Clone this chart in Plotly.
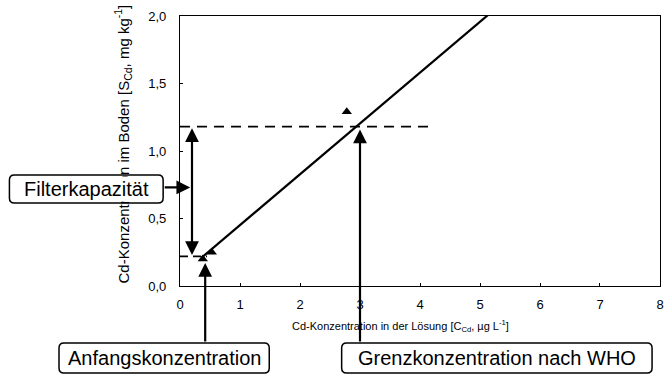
import plotly.graph_objects as go

# Measured Cd sorption points (solution concentration vs. soil concentration)
conc_solution = [0.38, 0.53, 2.78]
conc_soil = [0.20, 0.25, 1.29]

# Fitted sorption line (end points)
fit_x = [0.36, 5.22]
fit_y = [0.21, 2.04]

# Reference levels
who_limit_x = 3.0
who_soil_level = 1.18
initial_x = 0.42
initial_soil_level = 0.22

x_ticks = [0, 1, 2, 3, 4, 5, 6, 7, 8]
y_ticks = [0.0, 0.5, 1.0, 1.5, 2.0]

W, H = 666, 374
ML, MR, MT, MB = 180, 2, 16, 88
PW, PH = W - ML - MR, H - MT - MB

FONT = "Liberation Sans, Arial, sans-serif"


def px(x):
    return (x - ML) / PW


def py(y):
    return (H - MB - y) / PH


def rounded_box(x0, y0, x1, y1, r=5):
    rx, ry = r / PW, r / PH
    a0, a1 = px(x0), px(x1)
    b0, b1 = py(y1), py(y0)  # bottom, top in paper
    return (f"M {a0+rx},{b0} L {a1-rx},{b0} Q {a1},{b0} {a1},{b0+ry} "
            f"L {a1},{b1-ry} Q {a1},{b1} {a1-rx},{b1} L {a0+rx},{b1} "
            f"Q {a0},{b1} {a0},{b1-ry} L {a0},{b0+ry} Q {a0},{b0} {a0+rx},{b0} Z")


fig = go.Figure()

fig.add_trace(go.Scatter(x=fit_x, y=fit_y, mode="lines",
                         line=dict(color="black", width=2.2), showlegend=False))
fig.add_trace(go.Scatter(x=[0, 4.25], y=[who_soil_level, who_soil_level], mode="lines",
                         line=dict(color="black", width=1.8, dash="10px,7px"), showlegend=False))
fig.add_trace(go.Scatter(x=[0, 0.45], y=[initial_soil_level, initial_soil_level], mode="lines",
                         line=dict(color="black", width=1.8, dash="8px,5px"), showlegend=False))
fig.add_trace(go.Scatter(x=conc_solution, y=conc_soil, mode="markers",
                         marker=dict(symbol="triangle-up", size=9, color="black"),
                         showlegend=False))

boxes = [
    ("Filterkapazität", 8, 175, 163, 203),
    ("Anfangskonzentration", 58, 343, 270, 373),
    ("Grenzkonzentration nach WHO", 343, 343, 656, 373),
]

annotations = []

# Axis titles (the y title sits partly behind the Filterkapazität box)
annotations.append(dict(xref="paper", yref="paper", x=px(402), y=py(326),
                        text="Cd-Konzentration in der Lösung [C<sub>Cd</sub>, µg L<sup>-1</sup>]",
                        showarrow=False, font=dict(family=FONT, size=11, color="black"),
                        xanchor="center", yanchor="middle"))
annotations.append(dict(xref="paper", yref="paper", x=px(122), y=py(144),
                        text="Cd-Konzentration im Boden [S<sub>Cd</sub>, mg kg<sup>-1</sup>]",
                        showarrow=False, textangle=-90,
                        font=dict(family=FONT, size=15, color="black"),
                        xanchor="center", yanchor="middle"))

shapes = []
for label, x0, y0, x1, y1 in boxes:
    shapes.append(dict(type="path", xref="paper", yref="paper",
                       path=rounded_box(x0, y0, x1, y1),
                       line=dict(color="black", width=1.5), fillcolor="white",
                       layer="above"))
    annotations.append(dict(xref="paper", yref="paper", x=px((x0 + x1) / 2),
                            y=py((y0 + y1) / 2), text=label, showarrow=False,
                            font=dict(family=FONT, size=20, color="black"),
                            bgcolor="white",
                            xanchor="center", yanchor="middle"))

arrow_style = dict(showarrow=True, arrowhead=2, arrowsize=1.25, arrowwidth=2.2,
                   arrowcolor="black", text="", xref="x", yref="y")
# Filter capacity: double-headed arrow between the two soil levels
annotations.append(dict(x=0.2, y=initial_soil_level + 0.01, ax=0.2, ay=who_soil_level,
                        axref="x", ayref="y", arrowside="end+start", **arrow_style))
# Box pointers
annotations.append(dict(x=0.17, y=0.73, ax=-(190 - 163), ay=0, **arrow_style))
annotations.append(dict(x=initial_x, y=0.17, ax=0,
                        ay=343 - (MT + (2 - 0.17) * PH / 2.0), **arrow_style))
annotations.append(dict(x=who_limit_x, y=1.16, ax=0,
                        ay=343 - (MT + (2 - 1.16) * PH / 2.0), **arrow_style))

fig.update_layout(
    width=W, height=H,
    margin=dict(l=ML, r=MR, t=MT, b=MB),
    paper_bgcolor="white", plot_bgcolor="white",
    separators=",.",
    font=dict(family=FONT, size=12, color="black"),
    shapes=shapes, annotations=annotations,
    xaxis=dict(range=[0, 8.0001], tickvals=x_ticks, ticktext=[str(v) for v in x_ticks],
               showgrid=False, zeroline=False, showline=True, linecolor="black",
               linewidth=1.2, mirror=True, ticks="inside", ticklen=3,
               tickcolor="black", tickfont=dict(size=13), ticklabelstandoff=6,
               ticklabeloverflow="allow"),
    yaxis=dict(range=[0, 2], tickvals=y_ticks, tickformat=".1f",
               showgrid=False, zeroline=False, showline=True, linecolor="black",
               linewidth=1.2, mirror=True, ticks="inside", ticklen=3,
               tickcolor="black", tickfont=dict(size=13), ticklabelstandoff=10),
)

fig.write_html("out.html")
